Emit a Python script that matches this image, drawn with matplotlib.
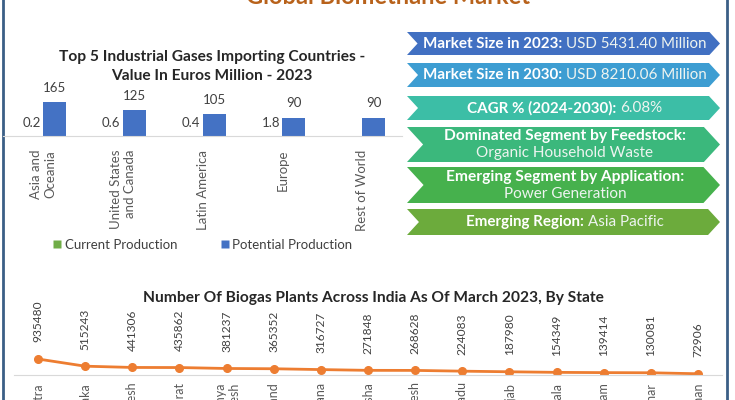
import matplotlib.pyplot as plt
from matplotlib.patches import Polygon
from matplotlib.lines import Line2D

plt.rcParams['font.family'] = ['Lato', 'DejaVu Sans']

# ---- data ----
regions = ['Asia and\nOceania', 'United States\nand Canada', 'Latin America', 'Europe', 'Rest of World']
current_prod = [0.2, 0.6, 0.4, 1.8, None]
potential_prod = [165, 125, 105, 90, 90]

states = ['Maharashtra', 'Karnataka', 'Uttar Pradesh', 'Gujarat', 'Madhya\nPradesh', 'Jharkhand',
          'Telangana', 'Odisha', 'Andhra Pradesh', 'Tamil Nadu', 'Punjab', 'Kerala', 'Assam',
          'Bihar', 'Rajasthan']
plants = [935480, 515243, 441306, 435862, 381237, 365352, 316727, 271848, 268628, 224083,
          187980, 154349, 139414, 130081, 72906]

banner_bold = ['Market Size in 2023:', 'Market Size in 2030:', 'CAGR % (2024-2030):',
               'Dominated Segment by Feedstock:', 'Emerging Segment by Application:', 'Emerging Region:']
banner_value = ['USD 5431.40 Million', 'USD 8210.06 Million', '6.08%',
                'Organic Household Waste', 'Power Generation', 'Asia Pacific']
banner_two_line = [False, False, False, True, True, False]
banner_colors = ['#4170c2', '#3d9dd2', '#3cbea6', '#3bb87c', '#46b14d', '#6cab3c']
banner_rows = [(32, 55), (63, 87), (96, 120), (127, 162), (167, 203), (209, 235)]

GREEN = '#70ad47'
BLUE = '#4472c4'
ORANGE = '#ed7d31'
TXT = '#404040'

fig = plt.figure(figsize=(7.35, 4.0), dpi=100)
fig.patch.set_facecolor('white')

# background / overlay axes in pixel coords
bg = fig.add_axes([0, 0, 1, 1])
bg.set_xlim(0, 735)
bg.set_ylim(400, 0)
bg.axis('off')

bg.plot([3, 3], [0, 400], color='#3b5f86', lw=2)
bg.plot([727, 727], [0, 400], color='#3b5f86', lw=2)
bg.text(388, 4, 'Global Biomethane Market', ha='center', va='baseline',
        fontsize=17, fontweight='bold', color='#b8621b')

renderer = fig.canvas.get_renderer()


def mixed_line(cx, cy, bold, regular, size):
    t1 = bg.text(0, cy, bold, fontsize=size, fontweight='bold', color='white', va='center')
    t2 = bg.text(0, cy, regular, fontsize=size, color='#eef4f0', va='center')
    w1 = t1.get_window_extent(renderer).width
    w2 = t2.get_window_extent(renderer).width
    gap = 4
    x0 = cx - (w1 + gap + w2) / 2
    t1.set_x(x0)
    t2.set_x(x0 + w1 + gap)


for bold, val, two, col, (top, bot) in zip(banner_bold, banner_value, banner_two_line,
                                            banner_colors, banner_rows):
    h = bot - top
    d = 0.46 * h
    mid = (top + bot) / 2
    left = 407
    right = 720 - d
    pts = [(left, top), (right, top), (720, mid), (right, bot), (left, bot), (left + d, mid)]
    bg.add_patch(Polygon(pts, closed=True, facecolor=col, edgecolor='none'))
    if two:
        bg.text(565, mid - 8.5, bold, ha='center', va='center', fontsize=11.2,
                fontweight='bold', color='white')
        bg.text(565, mid + 9, val, ha='center', va='center', fontsize=11, color='#eef4f0')
    else:
        mixed_line(565, mid, bold, val, 10.9)

# ---- top-left bar chart ----
ax1 = fig.add_axes([3 / 735, (400 - 136) / 400, 399 / 735, 40 / 400])
ax1.patch.set_visible(False)
x = range(len(regions))
w = 0.29
cur_vals = [v if v is not None else 0 for v in current_prod]
ax1.bar([i - w / 2 for i in x], cur_vals, width=w, color=GREEN)
ax1.bar([i + w / 2 for i in x], potential_prod, width=w, color=BLUE)
ax1.set_xlim(-0.5, len(regions) - 0.5)
ax1.set_ylim(0, 195)
for i, v in enumerate(current_prod):
    if v is not None:
        ax1.annotate(f'{v}', (i - w / 2, v), xytext=(0, 5), textcoords='offset points',
                     ha='center', va='bottom', fontsize=9.5, color=TXT, annotation_clip=False)
for i, v in enumerate(potential_prod):
    ax1.annotate(f'{v}', (i + w / 2, v), xytext=(0, 6), textcoords='offset points',
                 ha='center', va='bottom', fontsize=9.5, color=TXT, annotation_clip=False)
ax1.set_xticks(list(x))
ax1.set_xticklabels(regions, rotation=90, fontsize=9.5, color='#595959', multialignment='right')
ax1.tick_params(axis='x', length=0, pad=10)
ax1.set_yticks([])
for s in ['left', 'right', 'top']:
    ax1.spines[s].set_visible(False)
ax1.spines['bottom'].set_color('#d9d9d9')
bg.text(212, 57, 'Top 5 Industrial Gases Importing Countries -', ha='center', va='center',
        fontsize=11.2, fontweight='bold', color='#262626')
bg.text(212, 76, 'Value In Euros Million - 2023', ha='center', va='center',
        fontsize=11.2, fontweight='bold', color='#262626')

handles = [Line2D([], [], marker='s', color='none', markerfacecolor=GREEN, markeredgecolor='none', markersize=6),
           Line2D([], [], marker='s', color='none', markerfacecolor=BLUE, markeredgecolor='none', markersize=6)]
fig.legend(handles, ['Current Production', 'Potential Production'], loc='center',
           bbox_to_anchor=(202 / 735, (400 - 245) / 400), ncol=2, frameon=False,
           fontsize=9.5, handlelength=0.8, handletextpad=0.2, columnspacing=3.2,
           labelcolor='#404040')

# ---- bottom line chart ----
ax2 = fig.add_axes([14.4 / 735, (400 - 375) / 400, 707.2 / 735, 80 / 400])
ax2.patch.set_visible(False)
xs = list(range(len(states)))
ax2.plot(xs, plants, color=ORANGE, lw=2, marker='o', markersize=5.5)
ax2.set_xlim(-0.5, len(states) - 0.5)
ax2.set_ylim(0, 935480 * 80 / 16)
for i, v in zip(xs, plants):
    ax2.annotate(str(v), (i, v), xytext=(0, 12), textcoords='offset points', rotation=90,
                 ha='center', va='bottom', fontsize=8.6, color=TXT, annotation_clip=False)
ax2.set_xticks(xs)
ax2.set_xticklabels(states, rotation=90, fontsize=9, color='#595959', multialignment='right')
ax2.tick_params(axis='x', length=0, pad=5)
ax2.set_yticks([])
for s in ['left', 'right', 'top']:
    ax2.spines[s].set_visible(False)
ax2.spines['bottom'].set_color('#d9d9d9')
bg.text(373, 298, 'Number Of Biogas Plants Across India As Of March 2023, By State',
        ha='center', va='center', fontsize=11.2, fontweight='bold', color='#262626')

fig.savefig('out.png', dpi=100)
